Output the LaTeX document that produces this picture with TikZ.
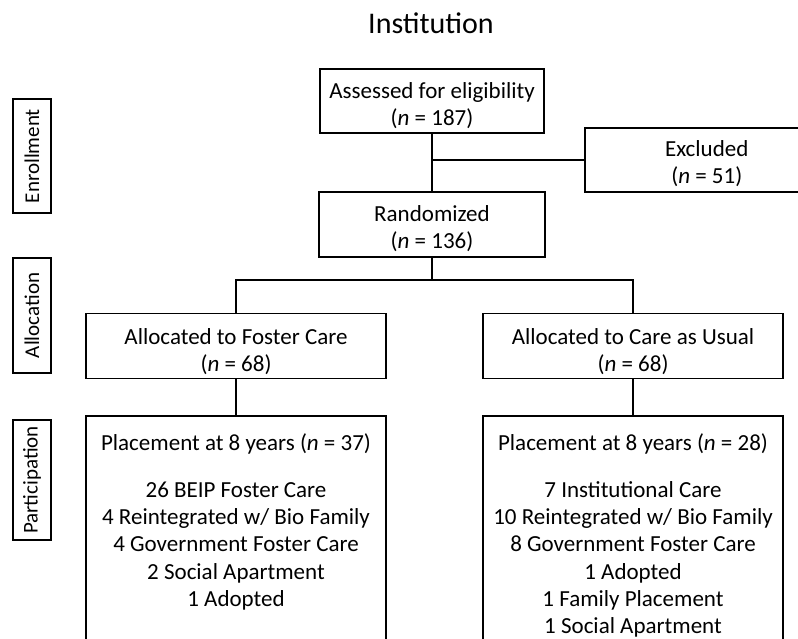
\documentclass[tikz,border=0pt]{standalone}
\usepackage{fontspec}
\setmainfont{Carlito}
\begin{document}
\begin{tikzpicture}[x=1pt,y=-1pt,
  box/.style={draw, line width=1.5pt, inner sep=0pt},
  boxtxt/.style={inner sep=0pt, align=center, font=\fontsize{23}{27}\selectfont, yshift=-4.5pt},
  side/.style={draw, line width=1.5pt, inner sep=0pt, rotate=90, font=\fontsize{21}{24}\selectfont},
  txt/.style={inner sep=0pt, font=\fontsize{23}{27}\selectfont},
  conn/.style={line width=1.5pt}]
\useasboundingbox (0,0) rectangle (798,639);
\clip (0,0) rectangle (798,639);
\node[font=\fontsize{30}{34}\selectfont, inner sep=0pt] (title) at (431,23) {Institution};
% enrollment
\node[box, minimum width=224pt, minimum height=64pt] (assess) at (432,101) {};
\node[boxtxt] (assessT) at (assess.center) {Assessed for eligibility\\(\textit{n} = 187)};
\node[box, minimum width=244pt, minimum height=64pt, anchor=west] (excl) at (584,160) {};
\node[boxtxt, yshift=1pt] (exclT) at (excl.center) {Excluded\\(\textit{n} = 51)};
\node[box, minimum width=226pt, minimum height=65pt] (rand) at (432,224.5) {};
\node[boxtxt] (randT) at (rand.center) {Randomized\\(\textit{n} = 136)};
% allocation
\node[box, minimum width=300pt, minimum height=65pt] (allocL) at (236,346) {};
\node[boxtxt, yshift=-1.5pt] (allocLT) at (allocL.center) {Allocated to Foster Care\\(\textit{n} = 68)};
\node[box, minimum width=300pt, minimum height=65pt] (allocR) at (633,346) {};
\node[boxtxt, yshift=-1.5pt] (allocRT) at (allocR.center) {Allocated to Care as Usual\\(\textit{n} = 68)};
% participation
\node[box, minimum width=300pt, minimum height=260pt, anchor=north] (placeL) at (236,415) {};
\node[box, minimum width=300pt, minimum height=260pt, anchor=north] (placeR) at (633,415) {};
\node[txt, anchor=base] (pLt) at (236,450) {Placement at 8 years (\textit{n} = 37)};
\node[txt, anchor=base] (pRt) at (633,450) {Placement at 8 years (\textit{n} = 28)};
\foreach \t [count=\i] in {26 BEIP Foster Care, 4 Reintegrated w/ Bio Family, 4 Government Foster Care, 2 Social Apartment, 1 Adopted}
  \node[txt, anchor=base] (pL\i) at (236,{470+27.3*\i}) {\t};
\foreach \t [count=\i] in {7 Institutional Care, 10 Reintegrated w/ Bio Family, 8 Government Foster Care, 1 Adopted, 1 Family Placement, 1 Social Apartment}
  \node[txt, anchor=base] (pR\i) at (633,{470+27.3*\i}) {\t};
% side labels
\node[side, minimum width=114pt, minimum height=38pt] (sEnr) at (32,156) {Enrollment};
\node[side, minimum width=115pt, minimum height=38pt] (sAll) at (32,315.5) {Allocation};
\node[side, minimum width=120pt, minimum height=38pt] (sPar) at (32,480) {Participation};
% connectors
\draw[conn] (assess.south) -- (rand.north);
\coordinate (mid) at (assess.south |- excl.west);
\draw[conn] (mid) -- (excl.west);
\coordinate (split) at (432,280);
\draw[conn] (rand.south) -- (split);
\draw[conn] (allocL.north) |- (split) -| (allocR.north);
\draw[conn] (allocL.south) -- (placeL.north);
\draw[conn] (allocR.south) -- (placeR.north);
\end{tikzpicture}
\end{document}
